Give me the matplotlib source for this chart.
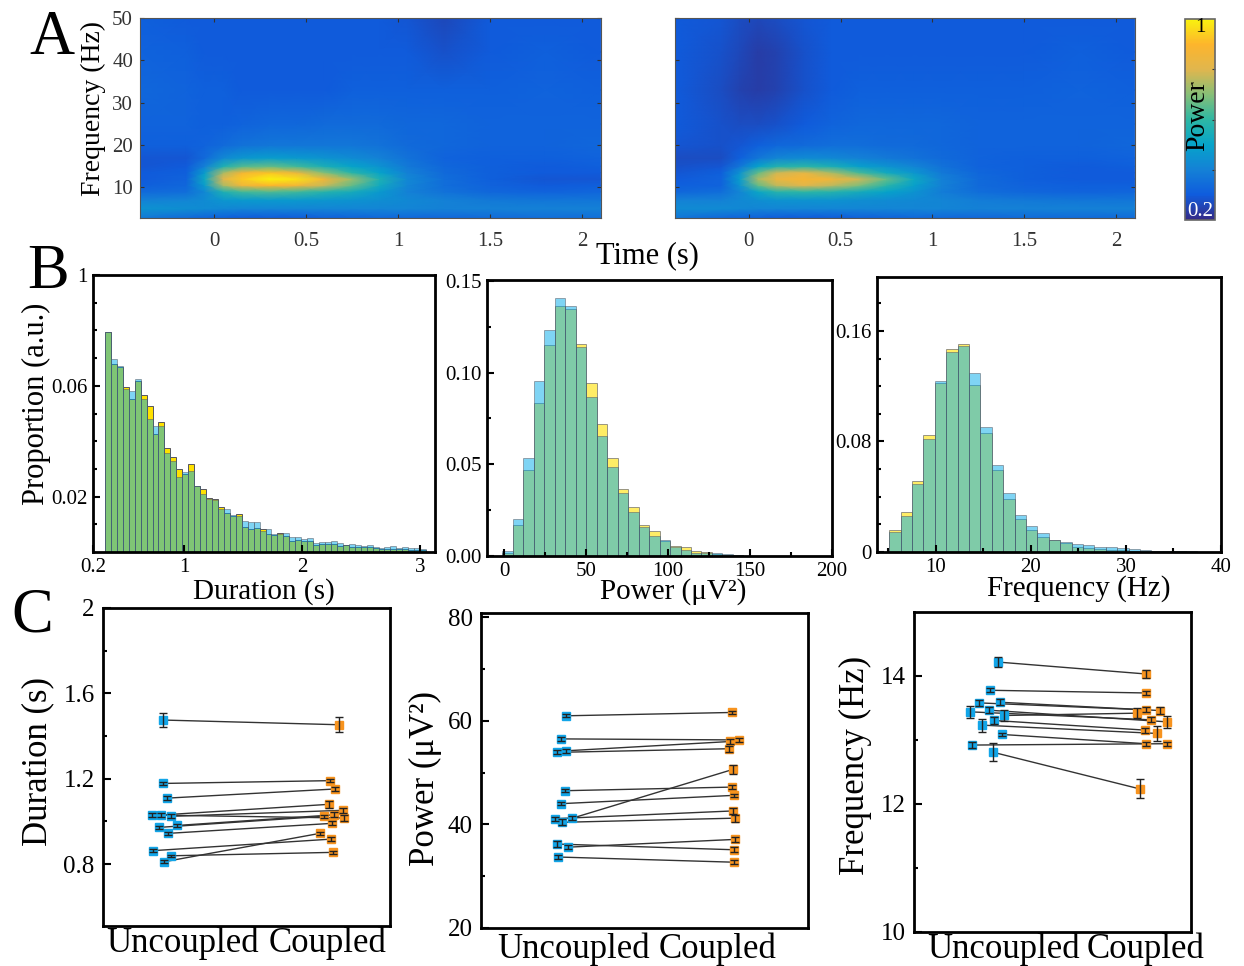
# Spindle figure: time-frequency maps, histograms and paired plots
import numpy as np
import matplotlib
matplotlib.use('Agg')
import matplotlib.pyplot as plt
from matplotlib.colors import LinearSegmentedColormap

plt.rcParams['font.family'] = ['Liberation Serif', 'DejaVu Serif']

W, H = 1244, 966

# --- panel A data (power on a coarse time / frequency table)
mapTimes = [-0.4, -0.15, -0.05, 0.05, 0.15, 0.3, 0.45, 0.6, 0.75, 0.9, 1.05, 1.25, 1.5, 1.8, 2.1]
mapFreqs = [2.8, 5, 7, 9, 10.5, 12, 13.5, 15, 17, 20, 25, 33, 42, 50]
mapCoupledA = [
    [.38, .34, .32, .31, .30, .30, .30, .31, .32, .33, .33, .33, .34, .35, .35],
    [.45, .44, .43, .42, .41, .41, .41, .41, .41, .41, .41, .40, .40, .40, .40],
    [.40, .41, .43, .46, .47, .47, .47, .46, .45, .44, .42, .40, .38, .37, .37],
    [.34, .35, .42, .56, .62, .64, .62, .58, .54, .47, .40, .36, .33, .32, .33],
    [.31, .33, .48, .74, .85, .90, .86, .77, .66, .53, .41, .35, .32, .30, .31],
    [.30, .32, .52, .80, .93, 1.0, .97, .86, .72, .56, .42, .35, .31, .29, .29],
    [.30, .31, .48, .74, .87, .92, .84, .70, .59, .50, .40, .34, .31, .30, .30],
    [.29, .30, .40, .56, .64, .66, .62, .55, .50, .45, .38, .33, .31, .30, .31],
    [.29, .29, .34, .42, .46, .48, .47, .45, .43, .40, .36, .32, .31, .31, .32],
    [.31, .31, .32, .34, .36, .37, .37, .37, .37, .36, .34, .33, .32, .32, .33],
    [.32, .32, .31, .31, .32, .33, .33, .34, .34, .34, .33, .33, .32, .32, .32],
    [.33, .32, .31, .31, .30, .30, .30, .30, .31, .31, .31, .31, .31, .32, .31],
    [.32, .31, .30, .30, .30, .30, .30, .30, .30, .30, .30, .28, .30, .31, .30],
    [.31, .30, .30, .30, .30, .30, .30, .30, .30, .30, .29, .26, .30, .30, .30],
]
mapCoupledB = [
    [.37, .33, .32, .31, .30, .30, .30, .31, .32, .33, .33, .33, .34, .34, .34],
    [.43, .43, .42, .41, .41, .41, .41, .41, .41, .41, .41, .40, .40, .40, .40],
    [.40, .40, .42, .44, .45, .45, .45, .44, .43, .42, .41, .39, .38, .37, .37],
    [.33, .35, .41, .51, .58, .60, .58, .54, .50, .45, .39, .35, .33, .32, .33],
    [.31, .32, .45, .66, .76, .80, .76, .69, .59, .49, .40, .34, .32, .31, .31],
    [.30, .32, .48, .74, .84, .88, .86, .78, .66, .52, .40, .34, .31, .30, .30],
    [.29, .31, .45, .66, .78, .82, .74, .63, .53, .46, .38, .33, .31, .30, .30],
    [.28, .29, .37, .50, .57, .59, .55, .49, .45, .41, .36, .32, .31, .30, .31],
    [.27, .27, .31, .37, .41, .43, .42, .40, .38, .36, .34, .32, .31, .31, .32],
    [.29, .28, .29, .31, .33, .34, .35, .35, .34, .34, .33, .32, .32, .32, .33],
    [.30, .28, .27, .27, .28, .30, .32, .33, .33, .33, .33, .32, .32, .32, .32],
    [.30, .27, .25, .24, .25, .28, .30, .31, .31, .31, .31, .31, .31, .32, .31],
    [.30, .28, .26, .24, .25, .28, .30, .30, .30, .30, .30, .30, .30, .31, .30],
    [.30, .29, .27, .26, .27, .29, .30, .30, .30, .30, .30, .30, .30, .30, .30],
]

# --- panel B data (histograms, yellow = coupled, blue = uncoupled)
durYellow = [.0793, .0677, .0667, .0596, .0551, .0617, .0565, .0527, .0427, .0471, .0377, .0342, .0301,
             .0280, .0317, .0237, .0227, .0196, .0190, .0161, .0142, .0131, .0137, .0089, .0082, .0088,
             .0082, .0066, .0063, .0067, .0058, .0039, .0042, .0041, .0041, .0024, .0029, .0028, .0029,
             .0020, .0024, .0018, .0017, .0017, .0017, .0013, .0011, .0011, .0012, .0012, .0010, .0008,
             .0008, .0007]
durBlue = [.0793, .0696, .0672, .0589, .0581, .0625, .0551, .0481, .0455, .0454, .0357, .0330, .0272,
           .0288, .0292, .0240, .0211, .0190, .0189, .0154, .0154, .0134, .0129, .0113, .0110, .0110,
           .0077, .0083, .0066, .0066, .0069, .0053, .0053, .0047, .0052, .0034, .0037, .0037, .0041,
           .0034, .0027, .0028, .0024, .0023, .0025, .0019, .0013, .0018, .0020, .0016, .0017, .0014,
           .0014, .0012]
powYellow = [.0016, .0171, .0471, .0832, .1153, .1365, .1345, .1157, .0944, .0718, .0536, .0366, .0267,
             .0171, .0135, .0081, .0056, .0047, .0025, .0023, .0009, .0005, .0003]
powBlue = [.0027, .0200, .0536, .0953, .1235, .1408, .1361, .1137, .0866, .0653, .0486, .0341, .0242,
           .0157, .0108, .0085, .0051, .0031, .0018, .0014, .0016, .0009, .0004]
freqYellow = [.0158, .0288, .0514, .0848, .1224, .1469, .1505, .1212, .0861, .0592, .0381, .0242, .0162,
              .0112, .0090, .0065, .0036, .0032, .0024, .0017, .0012, .0010, .0010, .0007, .0005, .0004, .0003]
freqBlue = [.0145, .0264, .0492, .0815, .1241, .1450, .1493, .1295, .0907, .0633, .0429, .0267, .0189,
            .0138, .0085, .0075, .0061, .0048, .0036, .0034, .0027, .0024, .0014, .0010, .0008, .0006, .0004]

# --- panel C data (paired values with error bars)
durX1 = [.988, .990, 1.008, .976, 1.033, .921, .965, 1.070, 1.018, .929, 1.035, .994]
durX2 = [2.021, 1.965, 1.998, 1.959, 2.043, 2.049, 1.931, 1.990, 1.980, 1.972, 1.984, 1.908]
durUnc = [1.475, 1.178, 1.109, 1.030, 1.024, 1.030, .972, .981, .944, .863, .839, .811]
durCou = [1.453, 1.191, 1.152, 1.080, 1.052, 1.016, 1.024, 1.031, .991, .917, .855, .944]
durUncErr = [.031, .008, .008, .010, .010, .008, .008, .008, .008, .006, .006, .006]
durCouErr = [.034, .008, .010, .018, .012, .012, .008, .012, .010, .008, .006, .008]

powX1 = [1.006, .977, 1.006, .955, .998, .977, 1.044, .939, .982, .955, 1.016, .959]
powX2 = [1.992, 2.038, 1.984, 1.973, 1.996, 2.004, 1.998, 2.002, 2.012, 2.006, 2.012, 2.004]
powUnc = [60.96, 56.5, 54.2, 53.9, 46.5, 44.0, 41.2, 41.1, 40.4, 36.2, 35.6, 33.7]
powCou = [61.6, 56.3, 56.0, 54.6, 47.2, 45.6, 50.6, 42.6, 41.2, 35.1, 37.1, 32.7]
powUncErr = [.3, .4, .4, .4, .3, .3, .4, .4, .6, .5, .4, .3]
powCouErr = [.3, .4, .5, .6, .4, .3, .8, .6, .7, .5, .5, .4]

frqX1 = [1.018, .966, .990, .850, 1.043, .919, .996, 1.056, .839, .959, .895, 1.033]
frqX2 = [1.977, 1.972, 1.934, 2.108, 1.972, 2.048, 1.970, 1.914, 2.007, 2.108, 1.975, 2.065]
frqUnc = [14.218, 13.777, 12.807, 12.921, 13.087, 13.232, 13.305, 13.383, 13.440, 13.466, 13.580, 13.590]
frqCou = [14.031, 13.735, 12.236, 12.942, 12.942, 13.102, 13.154, 13.419, 13.315, 13.284, 13.471, 13.460]
frqUncErr = [.08, .03, .14, .04, .03, .10, .05, .08, .09, .05, .05, .05]
frqCouErr = [.07, .03, .15, .03, .03, .11, .04, .08, .04, .09, .04, .05]

blueCol = '#12a5e8'
orangeCol = '#f7931e'

# parula-like colormap, with the warm end pushed towards orange
parula = LinearSegmentedColormap.from_list('parula', ['#352a87', '#0f5cdd', '#1481d6', '#06a4ca', '#2eb7a4',
                                                       '#87bf77', '#e0b64e', '#fdb52c', '#f9f20e'])


# Make axes from pixel edges of the picture
def axPx(left, top, right, bottom):
    return fig.add_axes([left / W, 1 - bottom / H, (right - left) / W, (bottom - top) / H])


# Text placed by pixel position
def txtPx(x, y, s, size, rotation=0, color='black'):
    fig.text(x / W, 1 - y / H, s, fontsize=size, rotation=rotation, color=color, ha='center', va='center')


def heatmap(box, table, showFreq):
    ax = axPx(*box)
    mesh = ax.pcolormesh(mapTimes, mapFreqs, np.array(table), cmap=parula, vmin=0.2, vmax=1, shading='gouraud')
    ax.set_xlim(-0.402, 2.103)
    ax.set_ylim(2.8, 50)
    ax.set_xticks([0, 0.5, 1, 1.5, 2], ['0', '0.5', '1', '1.5', '2'])
    ax.set_yticks([10, 20, 30, 40, 50])
    if not showFreq:
        ax.set_yticklabels([])
    else:
        ax.set_yticklabels(['10', '20', '30', '40', '50'])
    ax.tick_params(direction='in', length=3, width=0.8, top=True, right=True, labelsize=15,
                   colors='#333333', pad=5)
    ax.tick_params(axis='x', pad=10)
    for s in ax.spines.values():
        s.set_color('#555555')
        s.set_linewidth(0.8)
    return mesh


def hist(box, xStart, binW, yellow, blue, xlim, ylim, yellowAlpha):
    ax = axPx(*box)
    edges = xStart + binW * np.arange(len(yellow))
    ax.bar(edges, yellow, binW, align='edge', color='#ffe100', alpha=yellowAlpha, edgecolor='#55555f', linewidth=0.7)
    ax.bar(edges, blue, binW, align='edge', color='#00aaeb', alpha=0.5, edgecolor='#55555f', linewidth=0.7)
    ax.set_xlim(*xlim)
    ax.set_ylim(*ylim)
    ax.tick_params(which='both', direction='in', width=1.5, labelsize=15, pad=4)
    ax.tick_params(which='major', length=5)
    ax.tick_params(which='minor', length=3)
    for s in ax.spines.values():
        s.set_linewidth(2)
    return ax


def paired(box, x1, x2, unc, cou, uncErr, couErr, xlim, ylim, yticks, ylabels, yminor):
    ax = axPx(*box)
    for i in range(len(unc)):
        ax.plot([x1[i], x2[i]], [unc[i], cou[i]], color='#333333', linewidth=1, zorder=2)
    # markers first so the caps stay visible on top of them
    ax.plot(x1, unc, 's', color=blueCol, markersize=6, zorder=3)
    ax.plot(x2, cou, 's', color=orangeCol, markersize=6, zorder=3)
    ax.errorbar(x1, unc, yerr=uncErr, fmt='none', ecolor='#222222', elinewidth=1, capsize=3, zorder=4)
    ax.errorbar(x2, cou, yerr=couErr, fmt='none', ecolor='#222222', elinewidth=1, capsize=3, zorder=4)
    ax.set_xlim(*xlim)
    ax.set_ylim(*ylim)
    ax.set_xticks([])
    ax.set_yticks(yticks, ylabels)
    ax.set_yticks(yminor, minor=True)
    ax.tick_params(which='both', direction='in', width=1.5, labelsize=18, pad=6)
    ax.tick_params(which='major', length=6)
    ax.tick_params(which='minor', length=3)
    for s in ax.spines.values():
        s.set_linewidth(2)
    return ax


fig = plt.figure(figsize=(W / 100, H / 100), dpi=100)

# Panel A
mesh = heatmap((140, 18, 601, 218), mapCoupledA, True)
heatmap((675, 18, 1135, 218), mapCoupledB, False)

cax = axPx(1185, 19, 1215, 220)
cbar = fig.colorbar(mesh, cax=cax)
cbar.set_ticks([0.4, 0.6, 0.8])
cbar.set_ticklabels([])
cax.tick_params(direction='in', length=2, width=0.8, color='#333333')
cbar.outline.set_edgecolor('#666666')
cbar.outline.set_linewidth(1.2)
txtPx(1200, 28, '1', 15)
txtPx(1200, 211, '0.2', 15, color='white')
txtPx(1198, 116, 'Power', 20, rotation=90)

txtPx(93, 108, 'Frequency (Hz)', 20, rotation=90)
txtPx(647, 256, 'Time (s)', 22)
txtPx(52, 39, 'A', 45)
txtPx(48, 273, 'B', 45)
txtPx(32, 616, 'C', 45)

# Panel B
ax = hist((93, 275, 435, 552), 0.33, 0.0504, durYellow, durBlue, (0.229, 3.127), (0, 0.1), 1.0)
ax.set_xticks([0.229, 1, 2, 3], ['0.2', '1', '2', '3'])
ax.set_yticks([0.02, 0.06, 0.1], ['0.02', '0.06', '1'])
ax.set_yticks([0.01, 0.03, 0.04, 0.05, 0.07, 0.08, 0.09], minor=True)

ax = hist((487, 280, 832, 556), -1, 6.39, powYellow, powBlue, (-10.4, 200), (0, 0.1505), 0.6)
ax.set_xticks([0, 50, 100, 150, 200])
ax.set_xticks([25, 75, 125, 175], minor=True)
ax.set_yticks([0, 0.05, 0.10, 0.15], ['0.00', '0.05', '0.10', '0.15'])
ax.set_yticks([0.025, 0.075, 0.125], minor=True)

ax = hist((877, 277, 1221, 552), 5.08, 1.2, freqYellow, freqBlue, (3.8, 40), (0, 0.199), 0.6)
ax.set_xticks([10, 20, 30, 40])
ax.set_xticks([5, 15, 25, 35], minor=True)
ax.set_yticks([0, 0.08, 0.16], ['0', '0.08', '0.16'])
ax.set_yticks([0.02, 0.04, 0.06, 0.10, 0.12, 0.14, 0.18], minor=True)

txtPx(36, 404, 'Proportion (a.u.)', 22, rotation=90)
txtPx(264, 592, 'Duration (s)', 21)
txtPx(673, 592, 'Power (\u03bcV\u00b2)', 21)
txtPx(1079, 589, 'Frequency (Hz)', 21)

# Panel C
paired((103, 608, 390, 926), durX1, durX2, durUnc, durCou, durUncErr, durCouErr, (0.635, 2.32), (0.51, 2.0),
       [0.8, 1.2, 1.6, 2.0], ['0.8', '1.2', '1.6', '2'], [1.0, 1.4, 1.8])
paired((481, 613, 808, 928), powX1, powX2, powUnc, powCou, powUncErr, powCouErr, (0.5, 2.446), (20, 80.8),
       [20, 40, 60, 80], ['20', '40', '60', '80'], [30, 50, 70])
paired((914, 612, 1191, 932), frqX1, frqX2, frqUnc, frqCou, frqUncErr, frqCouErr, (0.477, 2.265), (10, 15),
       [10, 12, 14], ['10', '12', '14'], [11, 13])

txtPx(38, 762, 'Duration (s)', 25, rotation=90)
txtPx(425, 778, 'Power (\u03bcV\u00b2)', 25, rotation=90)
txtPx(855, 765, 'Frequency (Hz)', 25, rotation=90)
for cx, cy in [(183, 943), (574, 949), (1004, 949)]:
    txtPx(cx, cy, 'Uncoupled', 25)
for cx, cy in [(328, 943), (718, 949), (1146, 949)]:
    txtPx(cx, cy, 'Coupled', 25)

fig.savefig('out.png', dpi=100)
